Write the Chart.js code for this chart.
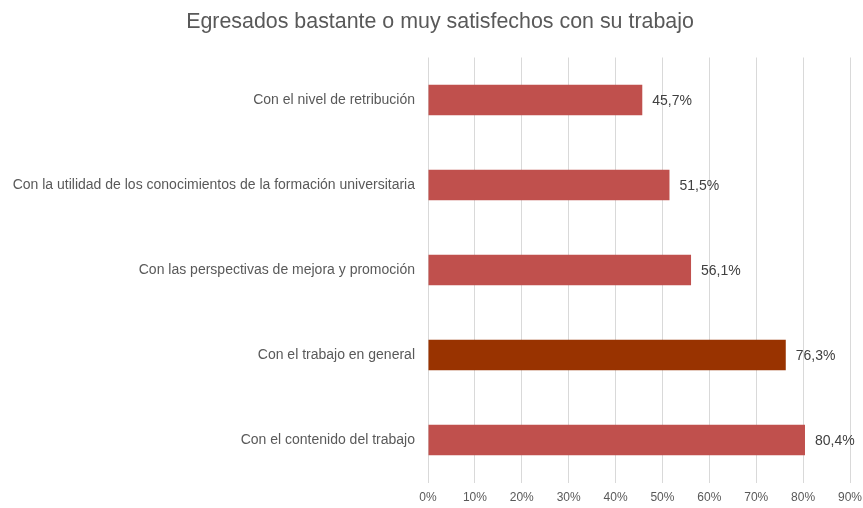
<!DOCTYPE html>
<html>
<head>
<meta charset="utf-8">
<script src="https://cdn.jsdelivr.net/npm/chart.js@4/dist/chart.umd.min.js"></script>
<style>
    html, body { margin: 0; padding: 0; background: #ffffff; }
    #wrap { width: 863px; height: 508px; }
</style>
</head>
<body>
<div id="wrap"><canvas id="satisfChart" width="863" height="508"></canvas></div>
<script>
// Datos del gráfico
const titulo = 'Egresados bastante o muy satisfechos con su trabajo';
const categorias = [
    'Con el nivel de retribución',
    'Con la utilidad de los conocimientos de la formación universitaria',
    'Con las perspectivas de mejora y promoción',
    'Con el trabajo en general',
    'Con el contenido del trabajo'
];
const porcentajes = [45.7, 51.5, 56.1, 76.3, 80.4];
const coloresBarras = ['#C0504D', '#C0504D', '#C0504D', '#993300', '#C0504D'];
const marcasEje = [0, 10, 20, 30, 40, 50, 60, 70, 80, 90];

const fuente = "'Liberation Sans', Arial, sans-serif";
const colorTexto = '#595959';

// Título (un poco desplazado a la derecha, como en el original)
const tituloGrafico = {
    id: 'tituloGrafico',
    afterDraw(chart) {
        const ctx = chart.ctx;
        ctx.save();
        ctx.font = '21.4px ' + fuente;
        ctx.fillStyle = colorTexto;
        ctx.textAlign = 'center';
        ctx.textBaseline = 'middle';
        ctx.fillText(titulo, 440, 22);
        ctx.restore();
    }
};

// Etiquetas de valor a la derecha de cada barra
const etiquetasValor = {
    id: 'etiquetasValor',
    afterDatasetsDraw(chart) {
        const ctx = chart.ctx;
        const meta = chart.getDatasetMeta(0);
        ctx.save();
        ctx.font = '14px ' + fuente;
        ctx.fillStyle = '#404040';
        ctx.textAlign = 'left';
        ctx.textBaseline = 'middle';
        meta.data.forEach((bar, i) => {
            const txt = porcentajes[i].toFixed(1).replace('.', ',') + '%';
            ctx.fillText(txt, bar.x + 10, bar.y + 1);
        });
        ctx.restore();
    }
};

new Chart(document.getElementById('satisfChart'), {
    type: 'bar',
    data: {
        labels: categorias,
        datasets: [{
            data: porcentajes,
            backgroundColor: coloresBarras,
            borderWidth: 0,
            barPercentage: 0.6,
            categoryPercentage: 0.6
        }]
    },
    options: {
        indexAxis: 'y',
        responsive: false,
        animation: false,
        layout: { padding: { left: 0, right: 13, top: 57.5, bottom: 0 } },
        plugins: {
            legend: { display: false },
            tooltip: { enabled: false },
            title: { display: false }
        },
        scales: {
            x: {
                min: 0,
                max: 90,
                afterBuildTicks(scale) {
                    scale.ticks = marcasEje.map(v => ({ value: v }));
                },
                afterFit(scale) {
                    scale.height = 25.5;
                    scale.paddingLeft = 0;
                    scale.paddingRight = 0;
                },
                grid: { color: '#D9D9D9', lineWidth: 1, drawTicks: false },
                border: { display: false },
                ticks: {
                    color: colorTexto,
                    font: { family: fuente, size: 12 },
                    padding: 8,
                    callback: v => v + '%'
                }
            },
            y: {
                afterFit(scale) { scale.width = 428; },
                grid: { display: false, drawTicks: false },
                border: { display: false },
                ticks: {
                    color: colorTexto,
                    font: { family: fuente, size: 14 },
                    padding: 13
                }
            }
        }
    },
    plugins: [etiquetasValor, tituloGrafico]
});
</script>
</body>
</html>
